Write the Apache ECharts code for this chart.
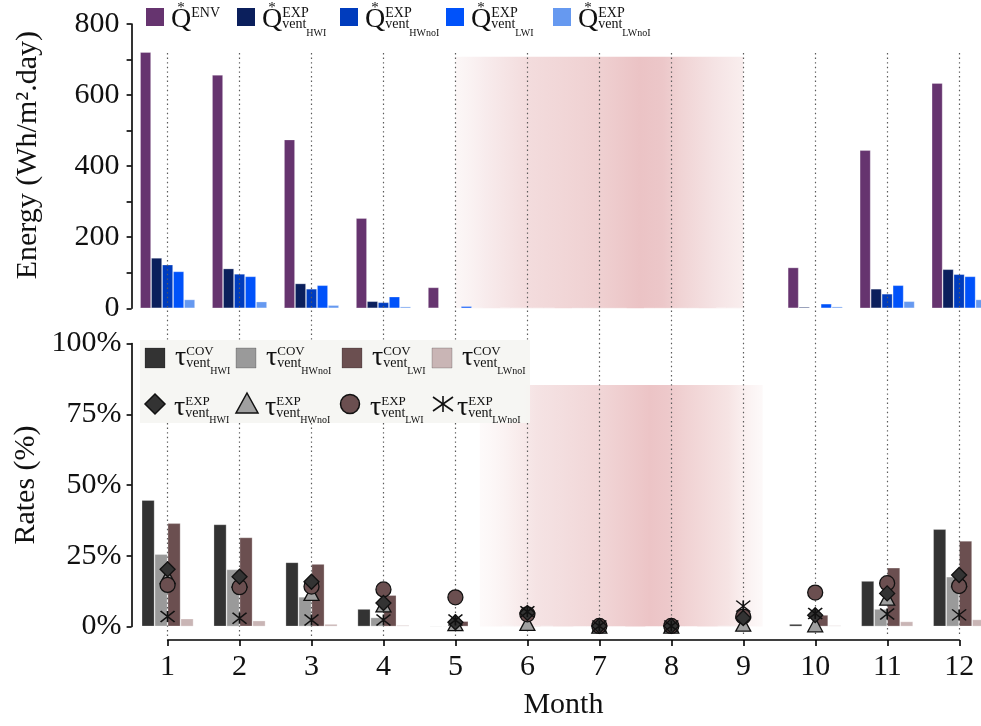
<!DOCTYPE html>
<html>
<head>
<meta charset="utf-8">
<script src="https://cdn.jsdelivr.net/npm/echarts@6/dist/echarts.min.js"></script>
<style>html,body{margin:0;padding:0;background:#fff;}#c{width:981px;height:726px;}</style>
</head>
<body>
<div id="c"></div>
<script>
// ---------- data ----------
const months = ['1','2','3','4','5','6','7','8','9','10','11','12'];
const energyTicks = [0, 200, 400, 600, 800];
const rateTicks = [0, 25, 50, 75, 100];

const qEnv    = [721, 657, 475, 254, 59, 2, 0, 0, 2, 115, 445, 634];
const qHWI    = [142, 112, 70, 20, 1, 1, 0, 0, 1, 4, 55, 110];
const qHWnoI  = [123, 97, 55, 17, 1, 1, 0, 0, 1, 1, 41, 96];
const qLWI    = [104, 90, 65, 33, 6, 1, 0, 0, 1, 13, 65, 90];
const qLWnoI  = [25, 19, 9, 5, 1, 1, 0, 0, 1, 5, 20, 25];

const covHWI   = [44.7, 36.1, 22.7, 6.2, 0.3, 0.2, 0, 0, 0.2, 0.9, 16.1, 34.4];
const covHWnoI = [25.6, 20.2, 10.5, 3.2, 0.3, 0.2, 0, 0, 0.2, 0.2, 6.2, 17.6];
const covLWI   = [36.5, 31.5, 22.1, 11.1, 1.9, 0.3, 0, 0, 0.2, 4.1, 20.8, 30.3];
const covLWnoI = [2.8, 2.1, 0.9, 0.5, 0.1, 0.2, 0, 0, 0.2, 0.4, 1.8, 2.5];

const expHWI   = [20.2, 17.6, 15.8, 8.3, 1.5, 4.8, 0.2, 0.2, 3.0, 4.0, 11.7, 18.2];
const expHWnoI = [17.6, 16.4, 11.7, 7.6, 1.0, 1.1, 0.1, 0.1, 0.8, 0.6, 10.0, 16.6];
const expLWI   = [14.7, 13.9, 14.1, 13.1, 10.3, 4.3, 0.2, 0.2, 3.5, 12.0, 15.3, 14.3];
const expLWnoI = [3.5, 2.9, 2.3, 2.3, 2.3, 5.2, 0.2, 0.2, 7.2, 4.6, 4.4, 4.1];

// shaded season ranges (month positions) and heights
const shadeTopRange = [5, 9];
const shadeTopHeight = 708;
const shadeBottomRange = [5.34, 9.27];
const shadeBottomHeight = 85.3;

// legend text parts
const energySup = ['ENV', 'EXP', 'EXP', 'EXP', 'EXP'];
const energySub = ['', 'vent', 'vent', 'vent', 'vent'];
const energySubSub = ['', 'HWI', 'HWnoI', 'LWI', 'LWnoI'];
const rateSubSub = ['HWI', 'HWnoI', 'LWI', 'LWnoI'];

// ---------- styles / layout ----------
const FONT = 'Liberation Serif';
const energyColors = ['#66346f', '#0b1f5c', '#003cbd', '#0052fa', '#6699f0'];
const rateColors = ['#333333', '#9a9a9a', '#6b4f50', '#c9b5b5'];
const markerFill = ['#333333', '#a0a0a0', '#6b4f50', '#111111'];

const gLeft = 131.6, gWidth = 863.5;
const ovTop = 53, ovHeight = 583;          // overlay grid for the dotted month guides
const boxX = 140, boxY = 340, boxW = 390, boxH = 83;   // bottom legend frame

const chart = echarts.init(document.getElementById('c'), null, {renderer: 'canvas'});

const ctx = document.createElement('canvas').getContext('2d');
function tw(text, size) { ctx.font = size + 'px "' + FONT + '"'; return ctx.measureText(text).width; }
function txt(x, y, text, size) {
  return {type: 'text', x: x, y: y, z: 101,
    style: {text: text, fontFamily: FONT, fontSize: size, fill: '#111', align: 'left', verticalAlign: 'middle'}};
}

const graphics = [];
// top legend
const topSwatchX = [146, 237, 340, 446, 553];
for (let i = 0; i < 5; i++) {
  const sx = topSwatchX[i];
  graphics.push({type: 'rect', x: sx, y: 8, z: 100, shape: {width: 18, height: 18}, style: {fill: energyColors[i]}});
  const qx = sx + 25;
  const qw = tw('Q', 28);
  graphics.push(txt(qx, 19.5, 'Q', 28));
  graphics.push({type: 'text', x: qx + qw / 2, y: 8.5, z: 101,
    style: {text: '*', fontFamily: FONT, fontSize: 15, fill: '#111', align: 'center', verticalAlign: 'middle'}});
  graphics.push(txt(qx + qw, 13.8, energySup[i], 14));
  if (energySub[i]) {
    graphics.push(txt(qx + qw, 24.3, energySub[i], 14));
    graphics.push(txt(qx + qw + tw(energySub[i], 14), 33, energySubSub[i], 10));
  }
}
// bottom legend box
graphics.push({type: 'rect', x: boxX, y: boxY, z: 99, shape: {width: boxW, height: boxH},
  style: {fill: 'rgba(246,246,243,0.96)'}});
const row1SwatchX = [145, 236, 342, 432];
const row2MarkX = [155, 247, 350, 443];
const row2TextX = [174, 265, 370, 457];
const tauW = tw('τ', 28);
for (let i = 0; i < 4; i++) {
  const sx = row1SwatchX[i];
  graphics.push({type: 'rect', x: sx, y: 348, z: 100, shape: {width: 20, height: 20},
    style: {fill: rateColors[i], stroke: 'rgba(0,0,0,0.25)', lineWidth: 0.8}});
  const tx = sx + 30;
  graphics.push(txt(tx, 357.5, 'τ', 28));
  graphics.push(txt(tx + tauW, 351.5, 'COV', 13));
  graphics.push(txt(tx + tauW, 363.5, 'vent', 14));
  graphics.push(txt(tx + tauW + tw('vent', 14), 371.5, rateSubSub[i], 10));
  const t2 = row2TextX[i];
  graphics.push(txt(t2, 407.5, 'τ', 28));
  graphics.push(txt(t2 + tauW, 401.5, 'EXP', 13));
  graphics.push(txt(t2 + tauW, 413.5, 'vent', 14));
  graphics.push(txt(t2 + tauW + tw('vent', 14), 420.5, rateSubSub[i], 10));
}
// legend markers
const mcx = row2MarkX, mcy = 404;
graphics.push({type: 'polygon', z: 100, shape: {points: [[mcx[0], mcy - 10], [mcx[0] + 10, mcy], [mcx[0], mcy + 10], [mcx[0] - 10, mcy]]},
  style: {fill: markerFill[0], stroke: '#111', lineWidth: 1.5}});
graphics.push({type: 'polygon', z: 100, shape: {points: [[mcx[1], mcy - 11], [mcx[1] + 11, mcy + 9], [mcx[1] - 11, mcy + 9]]},
  style: {fill: markerFill[1], stroke: '#111', lineWidth: 1.5}});
graphics.push({type: 'circle', z: 100, shape: {cx: mcx[2], cy: mcy, r: 9.5},
  style: {fill: markerFill[2], stroke: '#111', lineWidth: 1.5}});
[[0, -8, 0, 8], [-10, -7, 10, 7], [-10, 7, 10, -7]].forEach(s => {
  graphics.push({type: 'line', z: 100,
    shape: {x1: mcx[3] + s[0], y1: mcy + s[1], x2: mcx[3] + s[2], y2: mcy + s[3]},
    style: {stroke: '#111', lineWidth: 1.6}});
});

// ---------- axes ----------
const axisLineStyle = {color: '#000', width: 1.6};
const labelStyle = {fontFamily: FONT, fontSize: 30, color: '#111'};

function shadeGradient(stops) {
  return {type: 'linear', x: 0, y: 0, x2: 1, y2: 0, global: false,
    colorStops: stops.map(s => ({offset: s[0], color: s[1]}))};
}
const topStops = [[0, 'rgba(250,242,242,0.6)'], [0.1, '#f8eced'], [0.25, '#f3dcdd'], [0.5, '#efd0d1'],
  [0.64, '#ebc3c5'], [0.72, '#ecc7c9'], [0.78, '#f0d3d4'], [0.9, '#f5e3e4'], [1, '#f9eeee']];
const botStops = [[0, 'rgba(252,246,246,0.5)'], [0.12, '#f9eeee'], [0.2, '#f5e3e4'], [0.42, '#f1d6d7'],
  [0.6, '#ecc4c6'], [0.66, '#edc8ca'], [0.72, '#f0d1d2'], [0.88, '#f6e4e4'], [1, 'rgba(250,240,240,0.4)']];

const gridBase = {outerBoundsMode: 'none', containLabel: false};
const option = {
  animation: false,
  backgroundColor: '#fff',
  grid: [
    Object.assign({left: gLeft, width: gWidth, top: 24, height: 284.3}, gridBase),
    Object.assign({left: gLeft, width: gWidth, top: 343.5, height: 283}, gridBase),
    Object.assign({left: 167.6, width: 791.7, top: 639, height: 1}, gridBase),
    Object.assign({left: gLeft, width: gWidth, top: ovTop, height: ovHeight}, gridBase)
  ],
  xAxis: [
    {type: 'category', gridIndex: 0, data: months, show: false},
    {type: 'value', gridIndex: 0, min: 0.5, max: 12.5, show: false},
    {type: 'category', gridIndex: 1, data: months, show: false},
    {type: 'value', gridIndex: 1, min: 0.5, max: 12.5, show: false},
    {type: 'value', gridIndex: 2, min: 1, max: 12, interval: 1, position: 'bottom',
      name: 'Month', nameLocation: 'middle', nameGap: 50,
      nameTextStyle: {fontFamily: FONT, fontSize: 30, color: '#111'},
      axisLine: {show: true, onZero: false, lineStyle: axisLineStyle},
      axisTick: {show: true, length: 6, lineStyle: axisLineStyle},
      axisLabel: Object.assign({margin: 12, formatter: v => months[v - 1] || ''}, labelStyle),
      splitLine: {show: false}},
    {type: 'category', gridIndex: 3, data: months, show: false}
  ],
  yAxis: [
    {type: 'value', gridIndex: 0, min: energyTicks[0], max: energyTicks[energyTicks.length - 1],
      interval: energyTicks[1] - energyTicks[0],
      name: 'Energy (Wh/m².day)', nameLocation: 'middle', nameGap: 88, nameRotate: 90,
      nameTextStyle: {fontFamily: FONT, fontSize: 30, color: '#111', padding: [0, 0, 0, 22]},
      axisLine: {show: true, lineStyle: axisLineStyle},
      axisTick: {show: true, length: 5, lineStyle: axisLineStyle},
      minorTick: {show: true, splitNumber: 2, length: 5, lineStyle: axisLineStyle},
      axisLabel: Object.assign({margin: 12, formatter: v => energyTicks.indexOf(v) >= 0 ? String(v) : ''}, labelStyle),
      splitLine: {show: false}},
    {type: 'value', gridIndex: 1, min: rateTicks[0], max: rateTicks[rateTicks.length - 1],
      interval: rateTicks[1] - rateTicks[0],
      name: 'Rates (%)', nameLocation: 'middle', nameGap: 88, nameRotate: 90,
      nameTextStyle: {fontFamily: FONT, fontSize: 30, color: '#111'},
      axisLine: {show: true, lineStyle: axisLineStyle},
      axisTick: {show: true, length: 5, lineStyle: axisLineStyle},
      axisLabel: Object.assign({margin: 10, formatter: v => v + '%'}, labelStyle),
      splitLine: {show: false}},
    {type: 'value', gridIndex: 2, show: false},
    {type: 'value', gridIndex: 3, min: 0, max: 1, show: false}
  ],
  graphic: {elements: graphics},
  series: []
};

// shading
option.series.push({type: 'line', xAxisIndex: 1, yAxisIndex: 0, data: [], z: 0, silent: true,
  markArea: {silent: true, itemStyle: {color: shadeGradient(topStops)},
    data: [[{xAxis: shadeTopRange[0], yAxis: 0}, {xAxis: shadeTopRange[1], yAxis: shadeTopHeight}]]}});
option.series.push({type: 'line', xAxisIndex: 3, yAxisIndex: 1, data: [], z: 0, silent: true,
  markArea: {silent: true, itemStyle: {color: shadeGradient(botStops)},
    data: [[{xAxis: shadeBottomRange[0], yAxis: 0}, {xAxis: shadeBottomRange[1], yAxis: shadeBottomHeight}]]}});

// energy bars
const energyNames = ['Q* ENV', 'Q* EXP vent HWI', 'Q* EXP vent HWnoI', 'Q* EXP vent LWI', 'Q* EXP vent LWnoI'];
[qEnv, qHWI, qHWnoI, qLWI, qLWnoI].forEach((d, i) => {
  option.series.push({type: 'bar', name: energyNames[i], xAxisIndex: 0, yAxisIndex: 0, data: d,
    barGap: '0%', barCategoryGap: '23.6%', z: 2,
    itemStyle: {color: energyColors[i], borderColor: 'rgba(255,255,255,0.35)', borderWidth: 0.8}});
});
// rate bars
const rateNames = ['τ COV vent HWI', 'τ COV vent HWnoI', 'τ COV vent LWI', 'τ COV vent LWnoI'];
[covHWI, covHWnoI, covLWI, covLWnoI].forEach((d, i) => {
  option.series.push({type: 'bar', name: rateNames[i], xAxisIndex: 2, yAxisIndex: 1, data: d,
    barGap: '0%', barCategoryGap: '27.8%', z: 2,
    itemStyle: {color: rateColors[i], borderColor: 'rgba(255,255,255,0.35)', borderWidth: 0.8}});
});
// dotted month guides (interrupted behind the bottom legend frame)
const bw = gWidth / months.length;
const boxTopV = 1 - (boxY - ovTop) / ovHeight;
const boxBotV = 1 - (boxY + boxH - ovTop) / ovHeight;
const guideData = [];
months.forEach((m, i) => {
  const px = gLeft + bw * (i + 0.5);
  if (px > boxX && px < boxX + boxW) {
    guideData.push([{coord: [i, 1]}, {coord: [i, boxTopV]}]);
    guideData.push([{coord: [i, boxBotV]}, {coord: [i, 0]}]);
  } else {
    guideData.push([{coord: [i, 1]}, {coord: [i, 0]}]);
  }
});
option.series.push({type: 'line', xAxisIndex: 5, yAxisIndex: 3, data: [], z: 4, silent: true,
  markLine: {silent: true, symbol: 'none', label: {show: false},
    lineStyle: {type: [1.4, 3.2], color: '#5a5a5a', width: 1.2},
    data: guideData}});
// markers (drawn bottom to top: triangle, circle, diamond, star)
const starPath = 'path://M0,-7L0,7M-10,-7L10,7M-10,7L10,-7';
option.series.push({type: 'scatter', name: 'τ EXP vent HWnoI', xAxisIndex: 2, yAxisIndex: 1, data: expHWnoI, z: 10,
  symbol: 'triangle', symbolSize: [15, 14], itemStyle: {color: markerFill[1], borderColor: '#111', borderWidth: 1.3, opacity: 1}});
option.series.push({type: 'scatter', name: 'τ EXP vent LWI', xAxisIndex: 2, yAxisIndex: 1, data: expLWI, z: 10,
  symbol: 'circle', symbolSize: 15, itemStyle: {color: markerFill[2], borderColor: '#111', borderWidth: 1.3, opacity: 1}});
option.series.push({type: 'scatter', name: 'τ EXP vent HWI', xAxisIndex: 2, yAxisIndex: 1, data: expHWI, z: 10,
  symbol: 'diamond', symbolSize: 15, itemStyle: {color: markerFill[0], borderColor: '#111', borderWidth: 1.3, opacity: 1}});
option.series.push({type: 'scatter', name: 'τ EXP vent LWnoI', xAxisIndex: 2, yAxisIndex: 1, data: expLWnoI, z: 10,
  symbol: starPath, symbolSize: [14, 11], itemStyle: {color: 'none', borderColor: '#111', borderWidth: 1.5, opacity: 1}});

chart.setOption(option);
</script>
</body>
</html>
